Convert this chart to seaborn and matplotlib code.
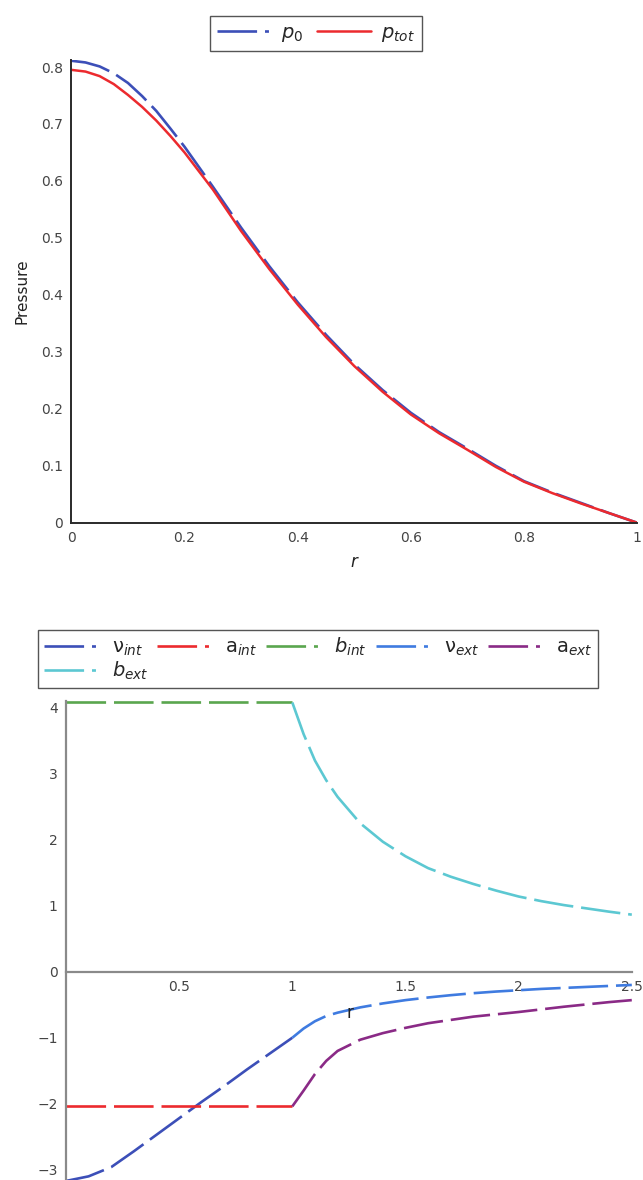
import numpy as np
import pandas as pd
import matplotlib
matplotlib.use("Agg")
import matplotlib.pyplot as plt
from matplotlib.ticker import MultipleLocator
from matplotlib.lines import Line2D
import seaborn as sns

# ---------------- data: top panel ----------------
r_top = [0.0, 0.025, 0.05, 0.075, 0.1, 0.125, 0.15, 0.175, 0.2, 0.25, 0.3, 0.35, 0.4, 0.45, 0.5,
         0.55, 0.6, 0.65, 0.7, 0.75, 0.8, 0.85, 0.9, 0.95, 1.0]
p0 = [0.811, 0.808, 0.801, 0.789, 0.772, 0.749, 0.723, 0.692, 0.660, 0.590, 0.518, 0.450,
      0.387, 0.330, 0.278, 0.233, 0.193, 0.159, 0.130, 0.100, 0.073, 0.053, 0.035, 0.017, 0.0]
ptot = [0.795, 0.792, 0.784, 0.770, 0.751, 0.730, 0.706, 0.679, 0.650, 0.585, 0.512, 0.445,
        0.383, 0.326, 0.275, 0.230, 0.190, 0.157, 0.128, 0.098, 0.072, 0.052, 0.034, 0.017, 0.0]

# ---------------- data: bottom panel ----------------
r_int = [0.0, 0.1, 0.2, 0.3, 0.4, 0.5, 0.6, 0.7, 0.8, 0.9, 1.0]
nu_int = [-3.17, -3.10, -2.96, -2.72, -2.47, -2.22, -1.97, -1.73, -1.48, -1.24, -1.0]
a_int = [-2.04] * len(r_int)
b_int = [4.08] * len(r_int)

r_ext = [1.0, 1.05, 1.1, 1.15, 1.2, 1.3, 1.4, 1.5, 1.6, 1.7, 1.8, 1.9,
         2.0, 2.1, 2.2, 2.3, 2.4, 2.5]
nu_ext = [-1.0, -0.86, -0.75, -0.67, -0.62, -0.54, -0.48, -0.43, -0.39, -0.355,
          -0.325, -0.30, -0.28, -0.26, -0.245, -0.23, -0.215, -0.20]
a_ext = [-2.04, -1.80, -1.55, -1.35, -1.20, -1.03, -0.93, -0.85, -0.78, -0.73,
         -0.68, -0.645, -0.61, -0.57, -0.53, -0.495, -0.46, -0.43]
b_ext = [4.08, 3.60, 3.20, 2.90, 2.65, 2.25, 1.97, 1.75, 1.57, 1.44, 1.33, 1.23,
         1.14, 1.07, 1.01, 0.96, 0.91, 0.865]

sns.set_style("white")
plt.rcParams["font.family"] = ["DejaVu Sans"]
plt.rcParams["mathtext.fontset"] = "dejavusans"

fig = plt.figure(figsize=(6.43, 11.8), dpi=100)

C_BLUE = "#3c4fb8"
C_RED = "#ec2a2e"
C_GREEN = "#5aa64e"
C_LBLUE = "#3f7be0"
C_PURPLE = "#8a2a86"
C_CYAN = "#5cc8d2"

LS_PLOT = (0, (15, 3))
LS_LEG = (0, (15, 3, 1.5, 3))

# ---------------- top panel ----------------
ax1 = fig.add_axes([0.111, 0.557, 0.880, 0.392])
df_top = pd.DataFrame({"r": r_top, "p0": p0, "ptot": ptot})
sns.lineplot(data=df_top, x="r", y="p0", ax=ax1, color=C_BLUE, lw=1.9,
             linestyle=LS_PLOT, legend=False)
sns.lineplot(data=df_top, x="r", y="ptot", ax=ax1, color=C_RED, lw=1.8, legend=False)
ax1.set_xlim(0, 1.0)
ax1.set_ylim(0, 0.812)
for s in ["top", "right"]:
    ax1.spines[s].set_visible(False)
for s in ["left", "bottom"]:
    ax1.spines[s].set_color("#2a2a2a")
    ax1.spines[s].set_linewidth(1.4)
ax1.xaxis.set_minor_locator(MultipleLocator(0.1))
ax1.yaxis.set_minor_locator(MultipleLocator(0.05))
ax1.set_xticks([0, 0.2, 0.4, 0.6, 0.8, 1.0])
ax1.set_xticklabels(["0", "0.2", "0.4", "0.6", "0.8", "1"])
ax1.set_yticks([0, 0.1, 0.2, 0.3, 0.4, 0.5, 0.6, 0.7, 0.8])
ax1.set_yticklabels(["0", "0.1", "0.2", "0.3", "0.4", "0.5", "0.6", "0.7", "0.8"])
ax1.tick_params(which="major", direction="inout", length=6, width=1.2,
                colors="#2a2a2a", labelsize=10, labelcolor="#444444", pad=3)
ax1.tick_params(which="minor", direction="inout", length=3, width=1.0, colors="#2a2a2a")
ax1.set_xlabel("r", fontsize=12, style="italic", color="#222222", labelpad=6)
ax1.set_ylabel("Pressure", fontsize=11, color="#222222", labelpad=8)

top_handles = [Line2D([], [], color=C_BLUE, lw=1.9, linestyle=LS_LEG),
               Line2D([], [], color=C_RED, lw=1.8)]
top_labels = [r"$p_0$", r"$p_{tot}$"]
fig.legend(top_handles, top_labels, loc="center", bbox_to_anchor=(0.491, 0.9716), ncol=2,
           frameon=True, fancybox=False, edgecolor="#555555", fontsize=14,
           handlelength=2.8, columnspacing=0.7, handletextpad=0.5,
           borderpad=0.35, framealpha=1)

# ---------------- bottom panel ----------------
ax2 = fig.add_axes([0.1026, 0.0003, 0.880, 0.4055])
df_int = pd.DataFrame({"r": r_int, "nu": nu_int, "a": a_int, "b": b_int})
df_ext = pd.DataFrame({"r": r_ext, "nu": nu_ext, "a": a_ext, "b": b_ext})
lw = 1.9
series = [
    (df_int, "nu", C_BLUE, r"$\mathregular{\nu}_{int}$"),
    (df_int, "a", C_RED, r"$\mathregular{a}_{int}$"),
    (df_int, "b", C_GREEN, r"$b_{int}$"),
    (df_ext, "nu", C_LBLUE, r"$\mathregular{\nu}_{ext}$"),
    (df_ext, "a", C_PURPLE, r"$\mathregular{a}_{ext}$"),
    (df_ext, "b", C_CYAN, r"$b_{ext}$"),
]
handles, labels = [], []
for d, col, c, lab in series:
    sns.lineplot(data=d, x="r", y=col, ax=ax2, color=c, lw=lw, linestyle=LS_PLOT, legend=False)
    handles.append(Line2D([], [], color=c, lw=lw, linestyle=LS_LEG))
    labels.append(lab)

ax2.set_xlim(0, 2.5)
ax2.set_ylim(-3.15, 4.1)
ax2.set_xlabel("")
ax2.set_ylabel("")
for s in ["top", "right"]:
    ax2.spines[s].set_visible(False)
ax2.spines["bottom"].set_position(("data", 0))
for s in ["left", "bottom"]:
    ax2.spines[s].set_color("#8a8a8a")
    ax2.spines[s].set_linewidth(1.6)
ax2.set_xticks([0.5, 1.0, 1.5, 2.0, 2.5])
ax2.set_xticklabels(["0.5", "1", "1.5", "2", "2.5"])
ax2.xaxis.set_minor_locator(MultipleLocator(0.1))
ax2.set_yticks([-3, -2, -1, 0, 1, 2, 3, 4])
ax2.set_yticklabels(["\u22123", "\u22122", "\u22121", "0", "1", "2", "3", "4"])
ax2.yaxis.set_minor_locator(MultipleLocator(0.5))
ax2.tick_params(which="major", direction="inout", length=6, width=1.2,
                colors="#333333", labelsize=10, labelcolor="#444444", pad=3)
ax2.tick_params(which="minor", direction="inout", length=3, width=1.0, colors="#333333")
ax2.text(1.255, -0.63, "r", fontsize=12, color="#222222", ha="center", va="center")

order = [0, 5, 1, 2, 3, 4]
fig.legend([handles[i] for i in order], [labels[i] for i in order], loc="center",
           bbox_to_anchor=(0.4946, 0.4415), ncol=5, frameon=True, fancybox=False,
           edgecolor="#555555", fontsize=14, handlelength=3.0, columnspacing=0.45,
           handletextpad=0.5, borderpad=0.3, labelspacing=0.1, framealpha=1)

fig.savefig("out.png", dpi=100)
